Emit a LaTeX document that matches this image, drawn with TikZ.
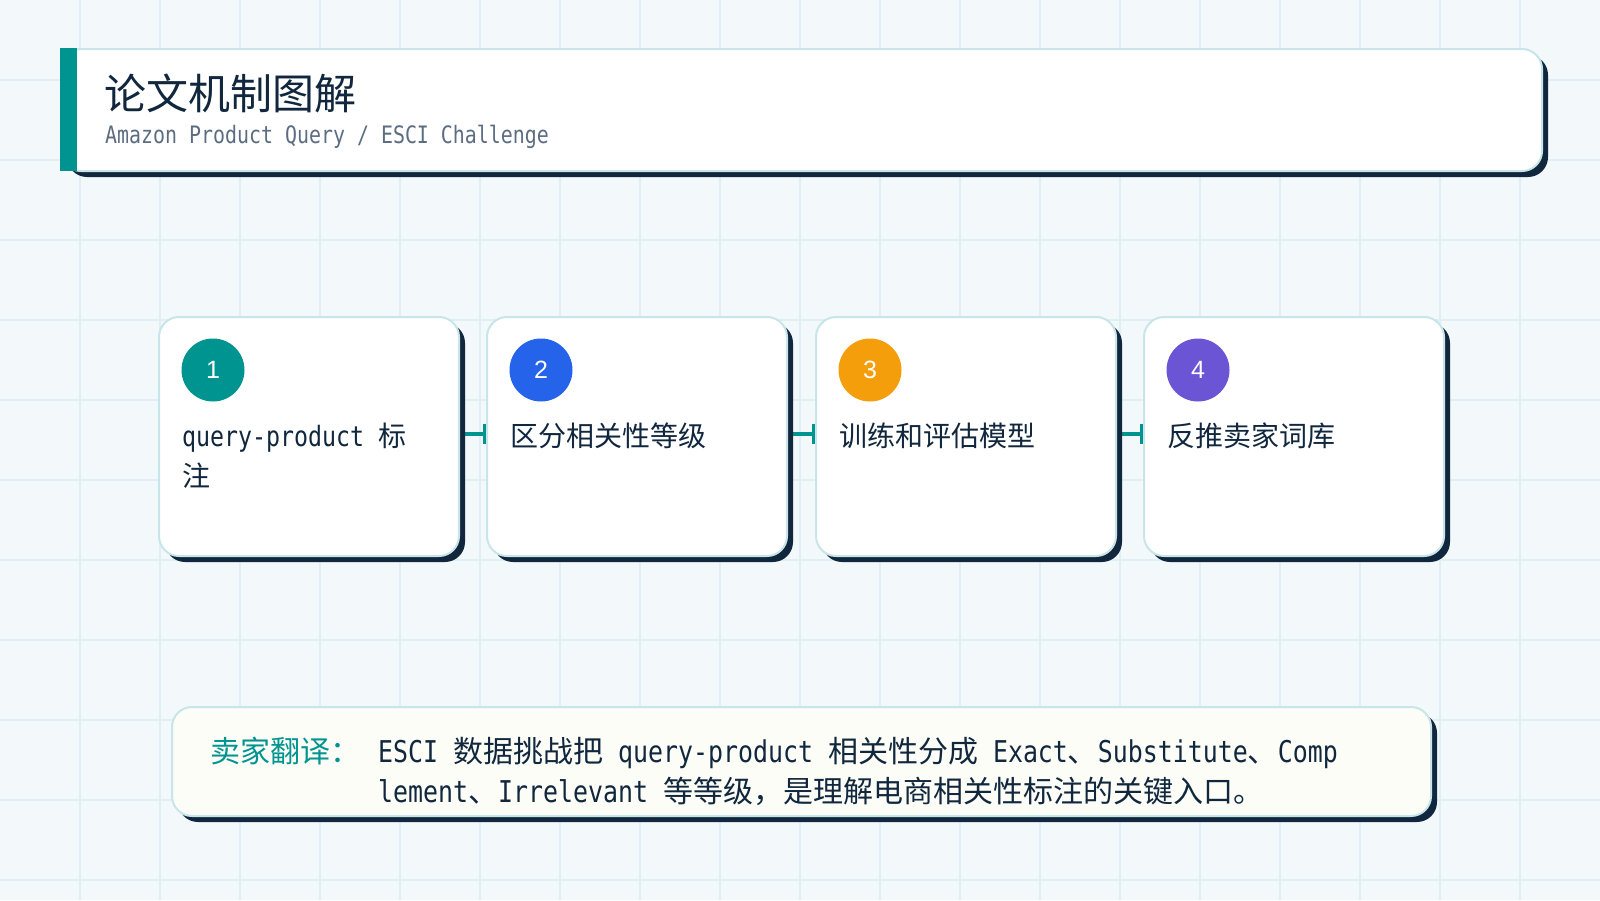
\documentclass[tikz,border=0pt]{standalone}
\usepackage{fontspec}
\setmainfont{DejaVu Sans Mono}[FakeStretch=0.83]
\newfontfamily\zhfont{Noto Sans CJK SC}
\newfontfamily\numfont{Liberation Sans}
\usetikzlibrary{shadows,arrows.meta}
\definecolor{bgc}{HTML}{F3F9FB}
\definecolor{gridc}{HTML}{DFEFF3}
\definecolor{navy}{HTML}{11273E}
\definecolor{cardline}{HTML}{C8E5EA}
\definecolor{tealc}{HTML}{009490}
\definecolor{bluec}{HTML}{2563EB}
\definecolor{orangec}{HTML}{F59E0B}
\definecolor{purplec}{HTML}{6C55D5}
\definecolor{subgray}{HTML}{5C6D82}
\definecolor{cream}{HTML}{FCFDF7}
\newcommand\zh[1]{{\zhfont #1}}
\newcommand\fs[2]{\fontsize{#1bp}{#2bp}\selectfont}
\pgfdeclarelayer{bg}
\pgfdeclarelayer{conn}
\pgfsetlayers{bg,conn,main}
\begin{document}
\begin{tikzpicture}[x=1bp,y=-1bp,
  card/.style={draw=cardline, line width=2bp, fill=white, rounded corners=20bp,
    general shadow={fill=navy, shadow xshift=6bp, shadow yshift=-6bp},
    anchor=north west, inner sep=0pt},
  badge/.style={circle, minimum size=63bp, inner sep=0pt, text=white, font=\numfont\fs{25}{25}},
  cardtext/.style={anchor=base west, inner sep=0pt, text=navy, font=\fs{28}{40}},
  notetext/.style={anchor=base west, inner sep=0pt, text=navy, font=\fs{30}{40}},
  flowlink/.style={draw=tealc, line width=4bp, -{Bar[width=20bp, line width=3bp]}}
]
\useasboundingbox (0,0) rectangle (1600,900);
\begin{pgfonlayer}{bg}
\fill[bgc] (0,0) rectangle (1600,900);
\foreach \x in {80,160,...,1560} \draw[gridc, line width=1.3bp] (\x,0) -- (\x,900);
\foreach \y in {80,160,...,880} \draw[gridc, line width=1.3bp] (0,\y) -- (1600,\y);
\end{pgfonlayer}

% title card
\node[card, minimum width=1481bp, minimum height=122bp] (title) at (60,48) {};
\fill[tealc] (60,48) rectangle (77,171);
\node[anchor=base west, inner sep=0pt, text=navy, font=\zhfont\fs{42}{42}] (ttl) at (104,109) {论文机制图解};
\node[anchor=base west, inner sep=0pt, text=subgray, font=\fs{24}{24}] (sub) at (105,143) {Amazon Product Query / ESCI Challenge};

% cards
\node[card, minimum width=300bp, minimum height=239bp] (c1) at (158,316) {};
\node[badge, fill=tealc] (b1) at (213,370) {1};
\node[cardtext] (t1a) at (182,446) {query-product \zh{标}};
\node[cardtext] (t1b) at (182,486) {\zh{注}};

\node[card, minimum width=300bp, minimum height=239bp] (c2) at (486,316) {};
\node[badge, fill=bluec] (b2) at (541,370) {2};
\node[cardtext] (t2) at (510,446) {\zh{区分相关性等级}};

\node[card, minimum width=300bp, minimum height=239bp] (c3) at (815,316) {};
\node[badge, fill=orangec] (b3) at (870,370) {3};
\node[cardtext] (t3) at (839,446) {\zh{训练和评估模型}};

\node[card, minimum width=300bp, minimum height=239bp] (c4) at (1143,316) {};
\node[badge, fill=purplec] (b4) at (1198,370) {4};
\node[cardtext] (t4) at (1167,446) {\zh{反推卖家词库}};

\begin{pgfonlayer}{conn}
\draw[flowlink] ([yshift=2.5bp]c1.east) -- ([yshift=2.5bp]c2.west);
\draw[flowlink] ([yshift=2.5bp]c2.east) -- ([yshift=2.5bp]c3.west);
\draw[flowlink] ([yshift=2.5bp]c3.east) -- ([yshift=2.5bp]c4.west);
\end{pgfonlayer}

% note box
\node[card, fill=cream, minimum width=1259bp, minimum height=109bp] (note) at (171,706) {};
\node[anchor=base west, inner sep=0pt, text=tealc, font=\zhfont\fs{30}{30}] (lab) at (210,762) {卖家翻译：};
\node[notetext] (n1) at (378,762) {ESCI \zh{数据挑战把} query-product \zh{相关性分成} Exact\zh{、}Substitute\zh{、}Comp};
\node[notetext] (n2) at (378,802) {lement\zh{、}Irrelevant \zh{等等级，是理解电商相关性标注的关键入口。}};
\end{tikzpicture}
\end{document}
